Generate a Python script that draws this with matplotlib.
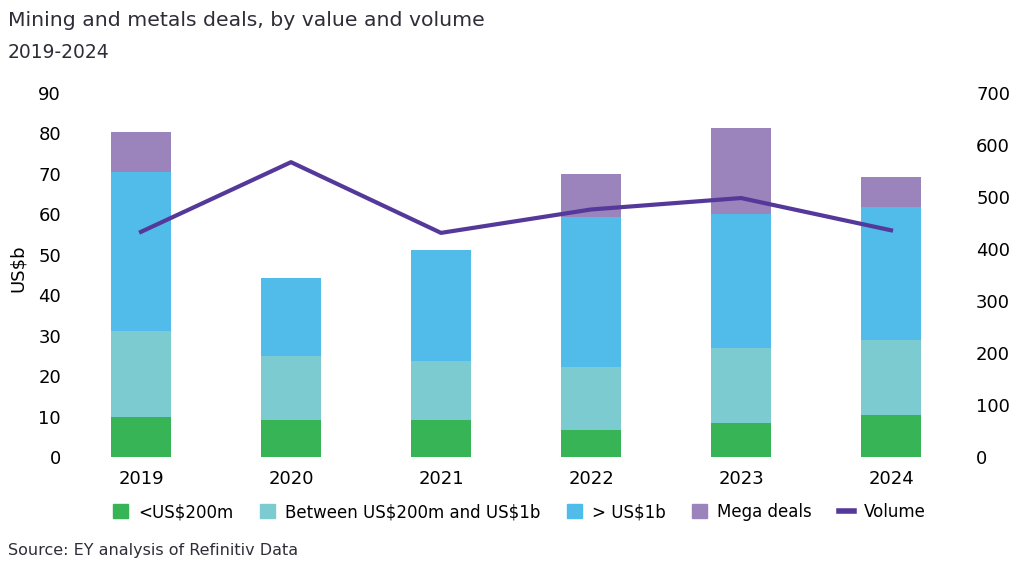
import matplotlib.pyplot as plt
from matplotlib.lines import Line2D
from matplotlib.patches import Patch

plt.rcParams["font.family"] = ["DejaVu Sans"]
plt.rcParams["text.parse_math"] = False

# data
years = ["2019", "2020", "2021", "2022", "2023", "2024"]
small = [9.9, 9.1, 9.1, 6.7, 8.3, 10.5]
mid = [21.3, 15.9, 14.7, 15.5, 18.6, 18.4]
large = [39.2, 19.2, 27.4, 37.1, 33.2, 32.9]
mega = [10.0, 0.0, 0.0, 10.7, 21.2, 7.4]
volume = [433, 567, 431, 476, 498, 436]

GREEN = "#36b456"
TEAL = "#7ccbd0"
BLUE = "#51bce9"
PURPLE = "#9b83bc"
LINE = "#55399a"
TEXT = "#2e2e38"

fig = plt.figure(figsize=(10.24, 5.66), dpi=100)
ax = fig.add_axes([100 / 1024, 1 - 457 / 566, 840 / 1024, 364 / 566])
ax2 = ax.twinx()

x = list(range(len(years)))
w = 0.4
b1 = small
b2 = [a + b for a, b in zip(b1, mid)]
b3 = [a + b for a, b in zip(b2, large)]
ax.bar(x, small, w, color=GREEN)
ax.bar(x, mid, w, bottom=b1, color=TEAL)
ax.bar(x, large, w, bottom=b2, color=BLUE)
ax.bar(x, mega, w, bottom=b3, color=PURPLE)
ax2.plot(x, volume, color=LINE, lw=3)

ax.set_xlim(-41 / 150, 5 + 49 / 150)
ax.set_ylim(0, 90)
ax2.set_ylim(0, 700)
ax.set_yticks(range(0, 91, 10))
ax2.set_yticks(range(0, 701, 100))
ax.set_xticks(x)
ax.set_xticklabels(years)

for a in (ax, ax2):
    for s in a.spines.values():
        s.set_visible(False)
    a.tick_params(length=0, labelsize=13, colors="black")
ax.tick_params(axis="y", pad=28)
ax2.tick_params(axis="y", pad=26)
ax.tick_params(axis="x", pad=9)

fig.text(18 / 1024, 1 - 268 / 566, "US$b", fontsize=13, rotation=90,
         ha="center", va="center")
fig.text(8 / 1024, 1 - 20 / 566, "Mining and metals deals, by value and volume",
         fontsize=14.7, color=TEXT, fontweight="medium", va="center")
fig.text(8 / 1024, 1 - 52 / 566, "2019-2024", fontsize=13.5, color=TEXT, va="center")
fig.text(8 / 1024, 1 - 551 / 566, "Source: EY analysis of Refinitiv Data",
         fontsize=11.5, color=TEXT, va="center")

handles = [
    Patch(color=GREEN, label="<US$200m"),
    Patch(color=TEAL, label="Between US$200m and US$1b"),
    Patch(color=BLUE, label="> US$1b"),
    Patch(color=PURPLE, label="Mega deals"),
    Line2D([], [], color=LINE, lw=4, label="Volume"),
]
fig.legend(handles=handles, loc="center", bbox_to_anchor=(0.507, 1 - 512 / 566),
           ncol=5, frameon=False, fontsize=12, handlelength=0.9, handleheight=0.9,
           columnspacing=1.6, handletextpad=0.6)

fig.savefig("out.png", dpi=100)
